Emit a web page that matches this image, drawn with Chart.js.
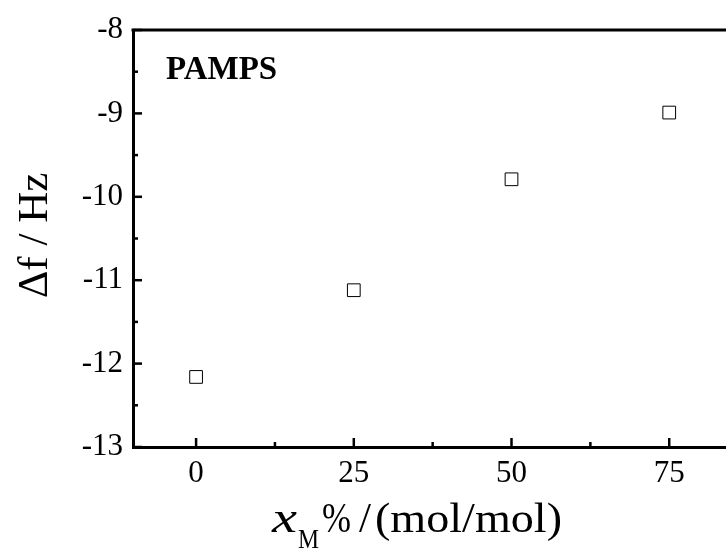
<!DOCTYPE html>
<html>
<head>
<meta charset="utf-8">
<script src="https://cdn.jsdelivr.net/npm/chart.js@4"></script>
<style>
html,body{margin:0;padding:0;background:#fff;overflow:hidden;}
canvas{display:block;}
</style>
</head>
<body>
<canvas id="c" width="726" height="550"></canvas>
<script>
// ---- data ----
const xValues = [0, 25, 50, 75];
const yValues = [-12.16, -11.12, -9.79, -8.99];
const xTickValues = [0, 25, 50, 75];
const xMinorTicks = [12.5, 37.5, 62.5];
const yTickValues = [-13, -12, -11, -10, -9, -8];
const yMinorTicks = [-12.5, -11.5, -10.5, -9.5, -8.5];
const seriesLabel = 'PAMPS';
const xTitleMain = 'x';
const xTitleSub = 'M';
const xTitlePct = '%';
const xTitleSlash = '/';
const xTitleUnit = '(mol/mol)';
const yTitle = '\u0394f / Hz';

const FONT = "'Liberation Serif', 'Times New Roman', serif";

function fitText(ctx, text, x, y, targetW) {
  const w = ctx.measureText(text).width;
  ctx.save();
  ctx.translate(x, y);
  ctx.scale(targetW / w, 1);
  ctx.fillText(text, 0, 0);
  ctx.restore();
}

const decor = {
  id: 'decor',
  afterDraw(chart) {
    const ctx = chart.ctx;
    const a = chart.chartArea;
    const xs = chart.scales.x, ys = chart.scales.y;
    ctx.save();
    ctx.strokeStyle = '#000';
    ctx.lineWidth = 3;
    ctx.lineCap = 'butt';
    // top frame line
    ctx.beginPath();
    ctx.moveTo(a.left - 1.5, a.top);
    ctx.lineTo(chart.width, a.top);
    ctx.stroke();
    // inward ticks
    const tick = (x1, y1, x2, y2) => { ctx.beginPath(); ctx.moveTo(x1, y1); ctx.lineTo(x2, y2); ctx.stroke(); };
    ctx.lineWidth = 2.5;
    xTickValues.forEach(v => { const px = xs.getPixelForValue(v); tick(px, a.bottom, px, a.bottom - 9); });
    xMinorTicks.forEach(v => { const px = xs.getPixelForValue(v); tick(px, a.bottom, px, a.bottom - 5); });
    yTickValues.forEach(v => { const py = ys.getPixelForValue(v); tick(a.left, py, a.left + 9, py); });
    yMinorTicks.forEach(v => { const py = ys.getPixelForValue(v); tick(a.left, py, a.left + 5, py); });
    // series label
    ctx.fillStyle = '#000';
    ctx.textBaseline = 'alphabetic';
    ctx.textAlign = 'left';
    ctx.font = 'bold 33px ' + FONT;
    ctx.fillText(seriesLabel, a.left + 33, a.top + 49);
    // x title
    const base = 532;
    ctx.font = 'italic 44px ' + FONT;
    fitText(ctx, xTitleMain, 272, base, 25);
    ctx.font = '28px ' + FONT;
    fitText(ctx, xTitleSub, 298, base + 16, 21);
    ctx.font = '42px ' + FONT;
    fitText(ctx, xTitlePct, 322, base, 29);
    fitText(ctx, xTitleSlash, 359, base, 12);
    fitText(ctx, xTitleUnit, 375, base, 187);
    // y title
    ctx.save();
    ctx.translate(47, (a.top + a.bottom) / 2 - 3);
    ctx.rotate(-Math.PI / 2);
    ctx.textAlign = 'center';
    ctx.font = '43px ' + FONT;
    ctx.fillText(yTitle, 0, 0);
    ctx.restore();
    ctx.restore();
  }
};

new Chart(document.getElementById('c'), {
  type: 'scatter',
  data: {
    datasets: [{
      label: seriesLabel,
      data: xValues.map((x, i) => ({ x: x, y: yValues[i] })),
      pointStyle: 'rect',
      pointRadius: 9,
      pointHoverRadius: 9,
      borderColor: '#000',
      backgroundColor: 'rgba(255,255,255,0)',
      borderWidth: 1,
      showLine: false
    }]
  },
  options: {
    responsive: false,
    animation: false,
    events: [],
    layout: { autoPadding: false, padding: { top: 30, right: 0, left: 0, bottom: 0 } },
    plugins: { legend: { display: false }, tooltip: { enabled: false } },
    scales: {
      x: {
        type: 'linear',
        min: -10, max: 84,
        afterBuildTicks: s => { s.ticks = xTickValues.map(v => ({ value: v })); },
        afterFit: s => { s.height = 103; s.paddingLeft = 0; s.paddingRight = 0; },
        grid: { display: false, drawTicks: false },
        border: { display: true, color: '#000', width: 3 },
        ticks: { color: '#000', font: { family: FONT, size: 31 }, padding: 8, maxRotation: 0 }
      },
      y: {
        type: 'linear',
        min: -13, max: -8,
        afterBuildTicks: s => { s.ticks = yTickValues.map(v => ({ value: v })); },
        afterFit: s => { s.width = 133; s.paddingTop = 0; s.paddingBottom = 0; },
        grid: { display: false, drawTicks: false },
        border: { display: true, color: '#000', width: 3 },
        ticks: { color: '#000', font: { family: FONT, size: 31 }, padding: 10 }
      }
    }
  },
  plugins: [decor]
});
</script>
</body>
</html>
